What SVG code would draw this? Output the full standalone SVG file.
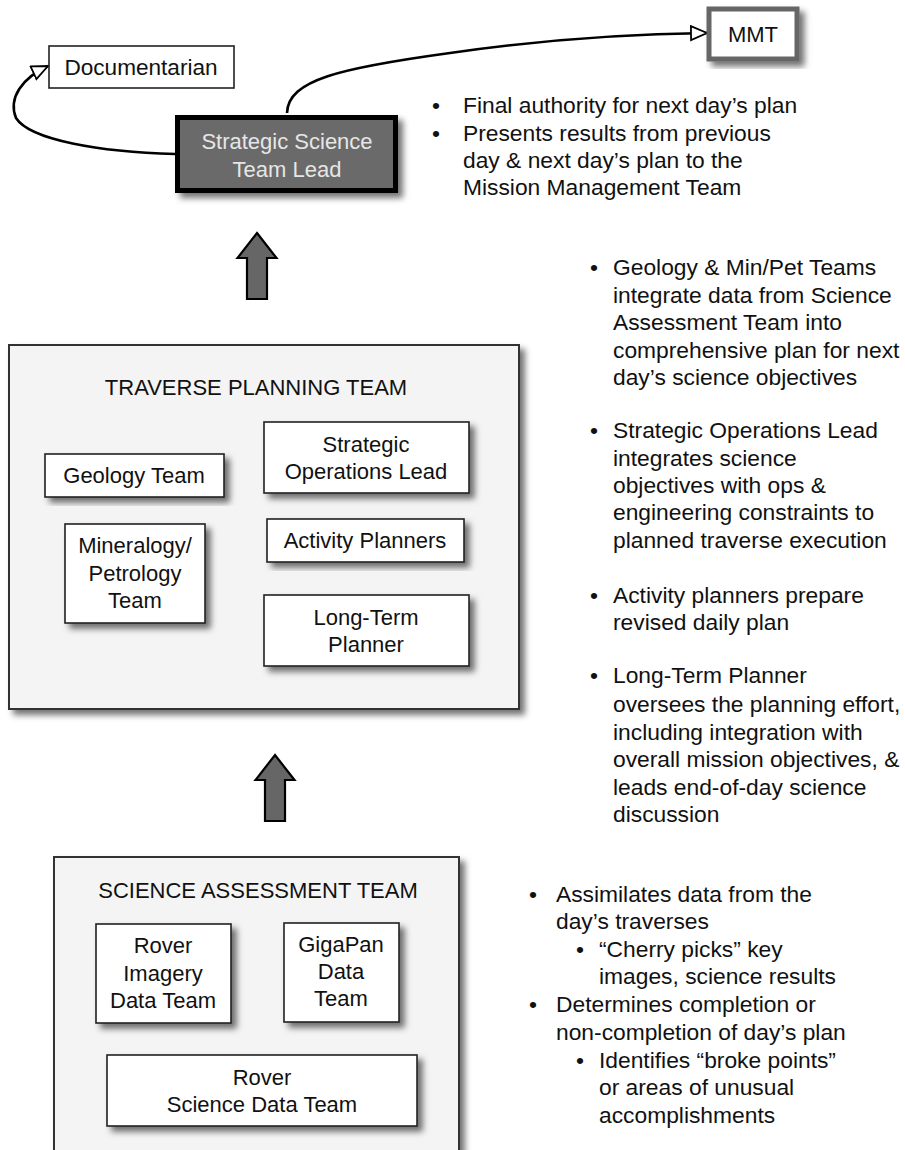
<svg xmlns="http://www.w3.org/2000/svg" width="905" height="1150" viewBox="0 0 905 1150">
<defs>
<filter id="sh" x="-20%" y="-20%" width="140%" height="140%">
<feDropShadow dx="5" dy="5" stdDeviation="3" flood-color="#000" flood-opacity="0.55"/>
</filter>
<marker id="open" markerUnits="userSpaceOnUse" markerWidth="20" markerHeight="18" refX="17" refY="8" orient="auto" viewBox="0 0 20 18">
<path d="M1,1 L17,8 L1,15 Z" fill="#fff" stroke="#000" stroke-width="1.8" stroke-linejoin="miter"/>
</marker>
<path id="uparrow" d="M0,0 L19.5,25 L10,25 L10,66 L-10,66 L-10,25 L-19.5,25 Z"/>
</defs>
<style>
text{font-family:"Liberation Sans",Arial,sans-serif;fill:#111;}
.n{font-size:22px;text-anchor:middle;}
.b{font-size:22.8px;}
.box{fill:#fff;stroke:#222;stroke-width:1.6;filter:url(#sh);}
.grp{fill:#f4f4f4;stroke:#333;stroke-width:2;filter:url(#sh);}
.arr{fill:#666;stroke:#000;stroke-width:2.2;stroke-linejoin:miter;}
.con{fill:none;stroke:#000;stroke-width:2.6;}
</style>
<rect width="905" height="1150" fill="#fff"/>

<g id="connectors">
<path class="con" d="M175,154 C100,152 30,140 16,118 C8,98 22,78 48,66" marker-end="url(#open)"/>
<path class="con" d="M287,113 C288,80 340,68 450,53 C540,40 620,34 707,33" marker-end="url(#open)"/>
<use href="#uparrow" x="257" y="233" class="arr"/>
<use href="#uparrow" x="275" y="755" class="arr"/>
</g>

<g id="documentarian">
<rect x="49" y="46" width="185" height="42" fill="#fff" stroke="#222" stroke-width="1.6"/>
<text class="n" x="141" y="75" style="font-size:22.6px">Documentarian</text>
</g>

<g id="mmt">
<rect x="709" y="9" width="88" height="50" fill="#fff" stroke="#666" stroke-width="5" filter="url(#sh)"/>
<text class="n" x="753" y="42">MMT</text>
</g>

<g id="sstl">
<rect x="177.5" y="117.5" width="218" height="73" fill="#6b6b6b" stroke="#000" stroke-width="5" filter="url(#sh)"/>
<text class="n" x="287" y="149" style="fill:#e6e6e6">Strategic Science</text>
<text class="n" x="287" y="177" style="fill:#e6e6e6">Team Lead</text>
</g>

<g id="notes-top">
<text class="b" x="432" y="113">•</text>
<text class="b" x="463" y="113">Final authority for next day’s plan</text>
<text class="b" x="432" y="141">•</text>
<text class="b" x="463" y="141">Presents results from previous</text>
<text class="b" x="463" y="168">day &amp; next day’s plan to the</text>
<text class="b" x="463" y="195">Mission Management Team</text>
</g>

<g id="traverse-planning-team">
<rect class="grp" x="9" y="345" width="510" height="364"/>
<text class="n" x="256" y="395">TRAVERSE PLANNING TEAM</text>
</g>
<g id="geology-team">
<rect class="box" x="45" y="454" width="179" height="43"/>
<text class="n" x="134" y="483">Geology Team</text>
</g>
<g id="strategic-operations-lead">
<rect class="box" x="264" y="422" width="205" height="71"/>
<text class="n" x="366" y="452">Strategic</text>
<text class="n" x="366" y="479">Operations Lead</text>
</g>
<g id="mineralogy-petrology-team">
<rect class="box" x="65" y="524" width="140" height="99"/>
<text class="n" x="135" y="553">Mineralogy/</text>
<text class="n" x="135" y="581">Petrology</text>
<text class="n" x="135" y="608">Team</text>
</g>
<g id="activity-planners">
<rect class="box" x="267" y="519" width="197" height="43"/>
<text class="n" x="365" y="548">Activity Planners</text>
</g>
<g id="long-term-planner">
<rect class="box" x="264" y="595" width="205" height="71"/>
<text class="n" x="366" y="625">Long-Term</text>
<text class="n" x="366" y="652">Planner</text>
</g>

<g id="notes-middle">
<text class="b" x="590" y="275">•</text>
<text class="b" x="613" y="275">Geology &amp; Min/Pet Teams</text>
<text class="b" x="613" y="303">integrate data from Science</text>
<text class="b" x="613" y="330">Assessment Team into</text>
<text class="b" x="613" y="358">comprehensive plan for next</text>
<text class="b" x="613" y="385">day’s science objectives</text>
<text class="b" x="590" y="438">•</text>
<text class="b" x="613" y="438">Strategic Operations Lead</text>
<text class="b" x="613" y="466">integrates science</text>
<text class="b" x="613" y="493">objectives with ops &amp;</text>
<text class="b" x="613" y="520">engineering constraints to</text>
<text class="b" x="613" y="548">planned traverse execution</text>
<text class="b" x="590" y="603">•</text>
<text class="b" x="613" y="603">Activity planners prepare</text>
<text class="b" x="613" y="630">revised daily plan</text>
<text class="b" x="590" y="683">•</text>
<text class="b" x="613" y="683">Long-Term Planner</text>
<text class="b" x="613" y="712">oversees the planning effort,</text>
<text class="b" x="613" y="740">including integration with</text>
<text class="b" x="613" y="767">overall mission objectives, &amp;</text>
<text class="b" x="613" y="795">leads end-of-day science</text>
<text class="b" x="613" y="822">discussion</text>
</g>

<g id="science-assessment-team">
<rect class="grp" x="54" y="857" width="405" height="310"/>
<text class="n" x="258" y="898">SCIENCE ASSESSMENT TEAM</text>
</g>
<g id="rover-imagery-data-team">
<rect class="box" x="96" y="924" width="135" height="99"/>
<text class="n" x="163" y="953">Rover</text>
<text class="n" x="163" y="981">Imagery</text>
<text class="n" x="163" y="1008">Data Team</text>
</g>
<g id="gigapan-data-team">
<rect class="box" x="284" y="923" width="115" height="99"/>
<text class="n" x="341" y="952">GigaPan</text>
<text class="n" x="341" y="979">Data</text>
<text class="n" x="341" y="1006">Team</text>
</g>
<g id="rover-science-data-team">
<rect class="box" x="107" y="1055" width="310" height="71"/>
<text class="n" x="262" y="1085">Rover</text>
<text class="n" x="262" y="1112">Science Data Team</text>
</g>

<g id="notes-bottom">
<text class="b" x="529" y="902">•</text>
<text class="b" x="556" y="902">Assimilates data from the</text>
<text class="b" x="556" y="929">day’s traverses</text>
<text class="b" x="576" y="957">•</text>
<text class="b" x="599" y="957">“Cherry picks” key</text>
<text class="b" x="599" y="984">images, science results</text>
<text class="b" x="529" y="1012">•</text>
<text class="b" x="556" y="1012">Determines completion or</text>
<text class="b" x="556" y="1040">non-completion of day’s plan</text>
<text class="b" x="576" y="1068">•</text>
<text class="b" x="599" y="1068">Identifies “broke points”</text>
<text class="b" x="599" y="1095">or areas of unusual</text>
<text class="b" x="599" y="1123">accomplishments</text>
</g>
</svg>
